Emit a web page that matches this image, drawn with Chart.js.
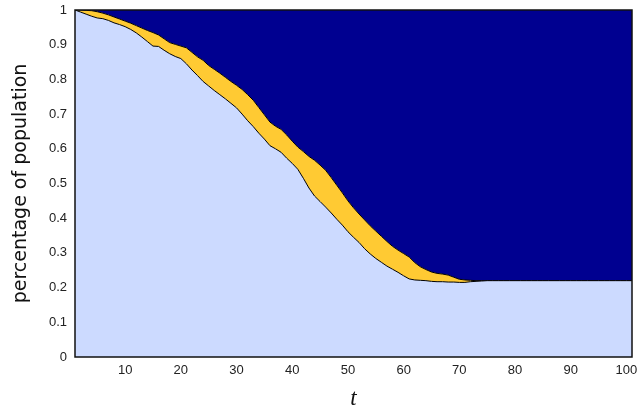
<!DOCTYPE html>
<html><head><meta charset="utf-8">
<script src="https://cdn.jsdelivr.net/npm/chart.js@4/dist/chart.umd.min.js"></script>
<style>html,body{margin:0;padding:0;background:#fff;} #wrap{width:639px;height:408px;position:relative;}</style>
</head><body><div id="wrap"><canvas id="c"></canvas></div>
<script>
const tValues = [1,2,3,4,5,6,7,8,9,10,11,12,13,14,15,16,17,18,19,20,21,22,23,24,25,26,27,28,29,30,31,32,33,34,35,36,37,38,39,40,41,42,43,44,45,46,47,48,49,50,51,52,53,54,55,56,57,58,59,60,61,62,63,64,65,66,67,68,69,70,71,72,73,74,75,76,77,78,79,80,81,82,83,84,85,86,87,88,89,90,91,92,93,94,95,96,97,98,99,100,101];
const susceptible = [
1.000,0.994,0.988,0.982,0.977,0.975,0.970,0.963,0.958,0.952,
0.944,0.934,0.922,0.909,0.896,0.895,0.884,0.874,0.866,0.860,
0.845,0.827,0.811,0.794,0.781,0.768,0.756,0.744,0.731,0.718,
0.700,0.681,0.664,0.645,0.628,0.609,0.600,0.590,0.573,0.558,
0.541,0.515,0.487,0.464,0.448,0.432,0.415,0.397,0.380,0.361,
0.345,0.330,0.312,0.297,0.284,0.273,0.262,0.253,0.244,0.234,
0.225,0.222,0.221,0.220,0.218,0.217,0.217,0.216,0.216,0.215,
0.215,0.217,0.218,0.219,0.220,0.220,0.220,0.220,0.220,0.220,
0.220,0.220,0.220,0.220,0.220,0.220,0.220,0.220,0.220,0.220,
0.220,0.220,0.220,0.220,0.220,0.220,0.220,0.220,0.220,0.220,
0.220];
const infected = [
0.000,0.006,0.011,0.016,0.018,0.016,0.016,0.017,0.016,0.016,
0.018,0.021,0.026,0.032,0.039,0.033,0.033,0.032,0.035,0.036,
0.046,0.051,0.054,0.061,0.059,0.061,0.062,0.062,0.063,0.065,
0.071,0.075,0.076,0.074,0.070,0.068,0.065,0.066,0.067,0.064,
0.064,0.077,0.091,0.103,0.105,0.106,0.102,0.098,0.093,0.089,
0.085,0.082,0.083,0.081,0.079,0.075,0.071,0.066,0.064,0.064,
0.063,0.050,0.039,0.032,0.027,0.024,0.022,0.020,0.014,0.009,
0.007,0.004,0.002,0.001,0.000,0.000,0.000,0.000,0.000,0.000,
0.000,0.000,0.000,0.000,0.000,0.000,0.000,0.000,0.000,0.000,
0.000,0.000,0.000,0.000,0.000,0.000,0.000,0.000,0.000,0.000,
0.000];
// recovered share = remainder of the population
const recovered = susceptible.map((s, i) => +(1 - s - infected[i]).toFixed(3));
const xTickValues = [10,20,30,40,50,60,70,80,90,100];
const yTickValues = [0,0.1,0.2,0.3,0.4,0.5,0.6,0.7,0.8,0.9,1];

const pts = arr => arr.map((v, i) => ({x: tValues[i], y: v}));

const framePlugin = {
  id: 'frame',
  afterDraw(chart) {
    const a = chart.chartArea, ctx = chart.ctx;
    ctx.save();
    ctx.strokeStyle = '#111';
    ctx.lineWidth = 1.5;
    ctx.strokeRect(a.left, a.top, a.right - a.left, a.bottom - a.top);
    ctx.restore();
  }
};

new Chart(document.getElementById('c'), {
  type: 'line',
  data: {
    datasets: [
      {label: 'susceptible', data: pts(susceptible), fill: 'origin', backgroundColor: '#CCDAFF', borderColor: '#000', borderWidth: 1},
      {label: 'infected', data: pts(infected), fill: '-1', backgroundColor: '#FFCA33', borderColor: '#000', borderWidth: 1},
      {label: 'recovered', data: pts(recovered), fill: '-1', backgroundColor: '#000090', borderColor: 'rgba(0,0,0,0)', borderWidth: 0}
    ]
  },
  options: {
    responsive: true,
    maintainAspectRatio: false,
    animation: false,
    layout: {padding: {top: 10, right: 7, bottom: 0, left: 0}},
    elements: {point: {radius: 0}, line: {tension: 0}},
    plugins: {legend: {display: false}, tooltip: {enabled: false}},
    scales: {
      x: {
        type: 'linear', min: 1, max: 101,
        grid: {display: false, drawTicks: false},
        border: {display: false},
        afterBuildTicks: s => { s.ticks = xTickValues.map(v => ({value: v})); },
        afterFit: s => { s.height = 51; s.paddingLeft = 0; s.paddingRight = 0; },
        ticks: {padding: 6, color: '#222', font: {family: 'Liberation Sans', size: 13}, maxRotation: 0},
        title: {display: true, text: 't', color: '#111', padding: {top: 0, bottom: 0},
                font: {family: 'Liberation Serif', style: 'italic', size: 23, lineHeight: 0.8}}
      },
      y: {
        stacked: true, min: 0, max: 1,
        grid: {display: false, drawTicks: false},
        border: {display: false},
        afterBuildTicks: s => { s.ticks = yTickValues.map(v => ({value: v})); },
        afterFit: s => { s.width = 75; s.paddingTop = 0; s.paddingBottom = 0; },
        ticks: {padding: 8, color: '#222', font: {family: 'Liberation Sans', size: 13},
                callback: v => String(+v.toFixed(1))},
        title: {display: true, text: 'percentage of population', color: '#111', padding: {top: 10, bottom: 0},
                font: {family: 'DejaVu Sans', size: 19}}
      }
    }
  },
  plugins: [framePlugin]
});
</script>
</body></html>
